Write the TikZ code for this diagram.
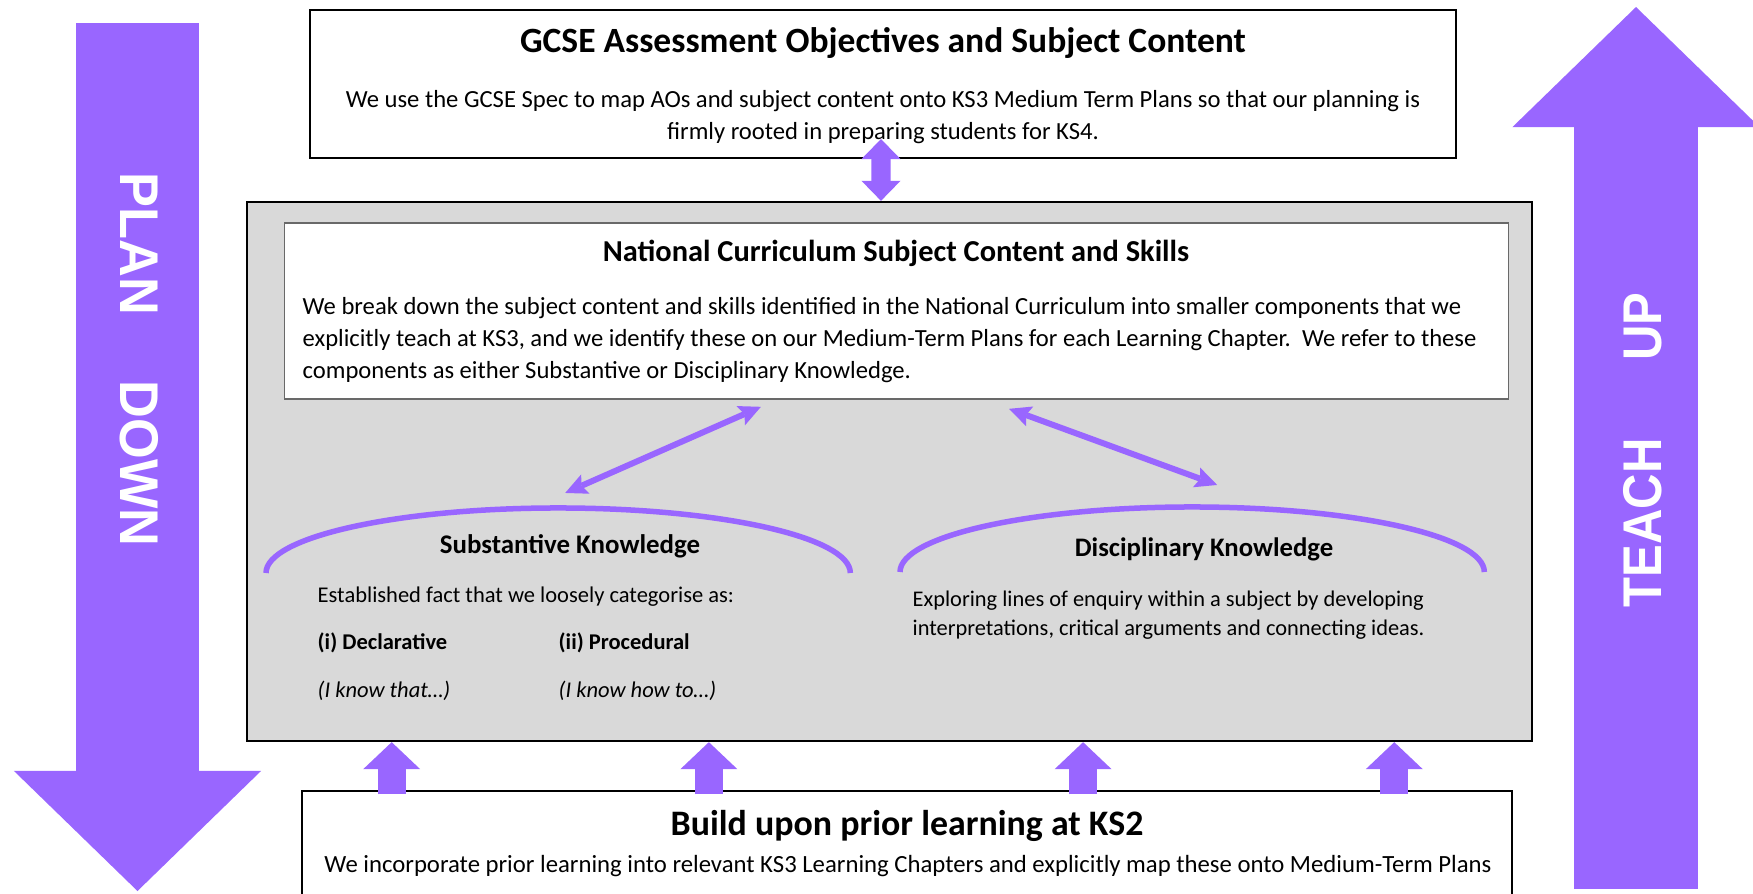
\documentclass[tikz,border=0pt]{standalone}
\usepackage{fontspec}
\setmainfont{Carlito}
\newfontfamily\armfont{Liberation Sans}
\usetikzlibrary{arrows.meta}

\begin{document}
\begin{tikzpicture}[x=0.01cm,y=-0.01cm,
    box/.style={draw=black, line width=0.02cm, fill=white, inner sep=0pt},
    bigarrow/.style={draw=purp, line width=1.23cm, -{Triangle[length=1.2cm,width=2.47cm,line width=0pt]}},
    blockup/.style={draw=purp, line width=0.28cm, -{Triangle[length=0.27cm,width=0.57cm,line width=0pt]}},
    blockdbl/.style={draw=purp, line width=0.19cm, {Triangle[length=0.2cm,width=0.39cm,line width=0pt]}-{Triangle[length=0.2cm,width=0.39cm,line width=0pt]}},
    linkarrow/.style={draw=purp, line width=0.06cm, {Stealth[length=0.22cm,width=0.21cm,inset=0.04cm,line width=0pt]}-{Stealth[length=0.22cm,width=0.21cm,inset=0.04cm,line width=0pt]}},
    knowarc/.style={draw=purp, line width=0.055cm},
    armtext/.style={text=white, inner sep=0pt, font=\armfont\bfseries\fontsize{15.5}{16}\selectfont}
  ]

\definecolor{purp}{RGB}{153,102,255}
\definecolor{lgray}{RGB}{217,217,217}
\definecolor{bordergray}{RGB}{105,105,105}

\useasboundingbox (0,0) rectangle (1753,893);

% plan down / teach up
\draw[bigarrow] (137.5,23) -- (137.5,891);
\draw[bigarrow] (1636,889) -- (1636,7);
\node[armtext, rotate=-90, xscale=0.96] (plan) at (139,359.5) {PLAN\hspace{0.68cm}DOWN};
\node[armtext, rotate=90, xscale=0.9] (teach) at (1643,450) {TEACH\hspace{0.86cm}UP};

\node[box, minimum width=11.46cm, minimum height=1.48cm] (gcse) at (883,84) {};
\node[font=\bfseries\fontsize{10.1}{11}\selectfont, anchor=base] (gcsetitle) at (883,52) {GCSE Assessment Objectives and Subject Content};
\node[font=\fontsize{7.0}{9.1}\selectfont, align=center, anchor=base] (gcsetext) at (883,139) {We use the GCSE Spec to map AOs and subject content onto KS3 Medium Term Plans so that our planning is\\firmly rooted in preparing students for KS4.};

\node[box, fill=lgray, minimum width=12.85cm, minimum height=5.39cm] (outer) at (889.5,471.5) {};
\node[box, draw=bordergray, line width=0.015cm, minimum width=12.23cm, minimum height=1.76cm] (nc) at (896.5,311) {};
\node[font=\bfseries\fontsize{8.65}{10}\selectfont, anchor=base] (nctitle) at (896,261) {National Curriculum Subject Content and Skills};
\node[font=\fontsize{7.0}{9.1}\selectfont, align=left, anchor=base west, inner sep=0pt] (nctext) at (302,378) {We break down the subject content and skills identified in the National Curriculum into smaller components that we\\explicitly teach at KS3, and we identify these on our Medium-Term Plans for each Learning Chapter.\ \ We refer to these\\components as either Substantive or Disciplinary Knowledge.};

% the two kinds of knowledge
\coordinate (subarc) at (266,573);
\coordinate (disarc) at (900,572);
\draw[knowarc] (subarc) arc[start angle=180, end angle=0, x radius=2.92cm, y radius=0.65cm];
\draw[knowarc] (disarc) arc[start angle=180, end angle=0, x radius=2.92cm, y radius=0.65cm];
\draw[linkarrow] ([xshift=-1.355cm,yshift=-0.07cm]nc.south) -- ([xshift=2.99cm,yshift=0.8cm]subarc);
\draw[linkarrow] ([xshift=1.125cm,yshift=-0.09cm]nc.south) -- ([xshift=3.17cm,yshift=0.87cm]disarc);

\node[font=\bfseries\fontsize{7.65}{9}\selectfont, anchor=base] (subtitle) at (570,553) {Substantive Knowledge};
\node[font=\bfseries\fontsize{7.6}{9}\selectfont, anchor=base] (distitle) at (1204,556) {Disciplinary Knowledge};
\node[font=\fontsize{6.4}{8}\selectfont, anchor=base west, inner sep=0pt] (subtext) at (317,602) {Established fact that we loosely categorise as:};
\node[font=\bfseries\fontsize{6.4}{8}\selectfont, anchor=base west, inner sep=0pt] (decl) at (317,649) {(i) Declarative};
\node[font=\bfseries\fontsize{6.4}{8}\selectfont, anchor=base west, inner sep=0pt] (proc) at (558,649) {(ii) Procedural};
\node[font=\itshape\fontsize{6.4}{8}\selectfont, anchor=base west, inner sep=0pt] (declex) at (317,697) {(I know that…)};
\node[font=\itshape\fontsize{6.4}{8}\selectfont, anchor=base west, inner sep=0pt] (procex) at (558,697) {(I know how to…)};
\node[font=\fontsize{6.37}{8.25}\selectfont, align=left, anchor=base west, inner sep=0pt] (distext) at (912,635) {Exploring lines of enquiry within a subject by developing\\interpretations, critical arguments and connecting ideas.};

% prior learning
\node[inner sep=0pt, minimum width=12.08cm, minimum height=1.01cm] (build) at (907,842.5) {};
\draw[line width=0.02cm] (build.south west) -- (build.north west) -- (build.north east) -- (build.south east);
\node[font=\bfseries\fontsize{10.2}{11}\selectfont, anchor=base] (buildtitle) at (907,835) {Build upon prior learning at KS2};
\node[font=\fontsize{7.03}{9.1}\selectfont, anchor=base] (buildtext) at (908,872) {We incorporate prior learning into relevant KS3 Learning Chapters and explicitly map these onto Medium-Term Plans};

\foreach \d [count=\i] in {-5.15,-1.98,1.76,4.87}{
  \coordinate (up\i) at ([xshift=\d cm,yshift=-0.03cm]build.north);
  \draw[blockup] (up\i) -- (up\i |- outer.south);
}
\draw[blockdbl] ([xshift=-0.02cm,yshift=0.2cm]gcse.south) -- ([xshift=-0.085cm]outer.north);

\end{tikzpicture}
\end{document}
